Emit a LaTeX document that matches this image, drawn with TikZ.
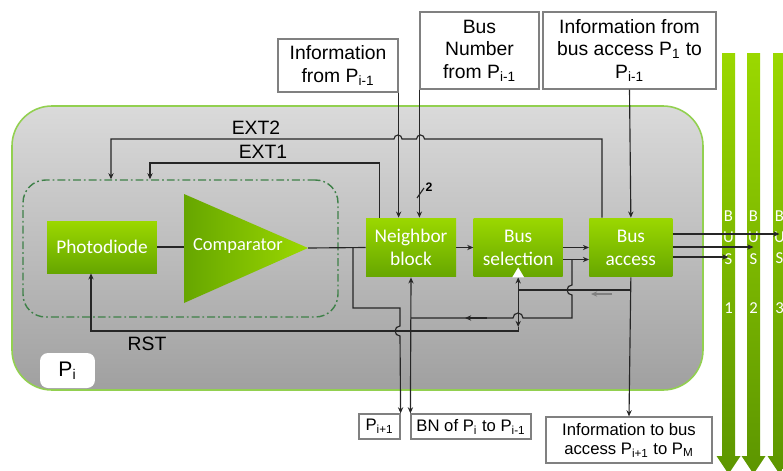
\documentclass[tikz,border=0pt]{standalone}
\usepackage{fontspec}
\setmainfont{Liberation Sans}
\newfontfamily\blockfont{Carlito}
\usetikzlibrary{arrows.meta, positioning}
\definecolor{limetop}{RGB}{155,216,0}
\definecolor{limebot}{RGB}{102,166,0}
\definecolor{paneltop}{RGB}{218,218,218}
\definecolor{panelbot}{RGB}{160,160,160}
\definecolor{panelrim}{RGB}{146,208,80}
\definecolor{dashgreen}{RGB}{62,128,72}
\colorlet{wire}{black!85}

\begin{document}
\begin{tikzpicture}[x=0.02cm, y=-0.02cm, >={Stealth[length=3.5pt,width=3pt]},
    block/.style={top color=limetop, bottom color=limebot, draw=none, text=white, align=center, inner sep=0pt, font=\blockfont\fontsize{11}{13}\selectfont},
    infobox/.style={draw=black!50, line width=0.7pt, fill=white, align=center, inner sep=0pt, font=\fontsize{11}{12.8}\selectfont},
    smallbox/.style={infobox, font=\fontsize{9.5}{10.8}\selectfont},
    wiring/.style={draw=wire, line width=0.65pt},
    lbl/.style={font=\fontsize{11}{13}\selectfont}]
    \useasboundingbox (0,0) rectangle (783,470);

    \draw[top color=paneltop, bottom color=panelbot, draw=panelrim, line width=0.9pt, rounded corners=0.8cm] (12,106) rectangle (703,390);
    \node[fill=white, rounded corners=0.16cm, minimum width=1.1cm, minimum height=0.7cm, font=\fontsize{12}{14}\selectfont] (pi) at (67.5,370.5) {P\textsubscript{i}};

    \node[draw=dashgreen, line width=0.8pt, dash pattern=on 4.5pt off 1.7pt on 1pt off 1.7pt, rounded corners=0.45cm, minimum width=6.3cm, minimum height=2.74cm] (sensor) at (180.5,248.5) {};
    \node[block, minimum width=2.2cm, minimum height=1.04cm] (pd) at (102,247) {Photodiode};
    \coordinate (cmpin) at (184,247);
    \coordinate (cmpout) at (308,248);
    \shade[left color=limebot, right color=limetop] (184,194) -- (cmpout) -- (184,303) -- cycle;
    \node[text=white, font=\blockfont\fontsize{10.5}{12}\selectfont] (cmp) at (238,246) {Comparator};

    \node[block, minimum width=1.8cm, minimum height=1.18cm] (nb) at (411,247.5) {Neighbor\\block};
    \node[block, minimum width=1.78cm, minimum height=1.18cm, right=0.34cm of nb] (bs) {Bus\\selection};
    \node[block, minimum width=1.66cm, minimum height=1.18cm, right=0.52cm of bs] (ba) {Bus\\access};

    \node[infobox, minimum width=2.4cm, minimum height=1.06cm] (infoprev) at (338,65.5) {Information\\from P\textsubscript{i-1}};
    \node[infobox, minimum width=2.38cm, minimum height=1.54cm] (busnum) at (479.5,50.5) {Bus\\Number\\from P\textsubscript{i-1}};
    \node[infobox, minimum width=3.46cm, minimum height=1.54cm] (infoacc) at (629.5,50.5) {Information from\\bus access P\textsubscript{1} to\\P\textsubscript{i-1}};

    \node[smallbox, minimum width=0.82cm, minimum height=0.5cm] (pnext) at (379.5,426.5) {P\textsubscript{i+1}};
    \node[smallbox, minimum width=2.4cm, minimum height=0.5cm] (bn) at (471,426.5) {BN of P\textsubscript{i} to P\textsubscript{i-1}};
    \node[smallbox, minimum width=3.32cm, minimum height=0.92cm] (infonext) at (629,440) {Information to bus\\access P\textsubscript{i+1} to P\textsubscript{M}};

    \foreach \k/\bx in {1/728.5, 2/753.5, 3/779.5} {
      \shade[top color=limetop, bottom color=limebot!90!black] (\bx-6.5,53) -- (\bx+6.5,53) -- (\bx+6.5,456) -- (\bx+12,456) -- (\bx,474) -- (\bx-12,456) -- (\bx-6.5,456) -- cycle;
      \node[text=white, align=center, inner sep=0pt, font=\blockfont\fontsize{9.5}{12.2}\selectfont] (bus\k) at (\bx,262) {B\\U\\S\\[16pt]\k};
    }

    \node[lbl] (ext2) at (256,128) {EXT2};
    \node[lbl] (ext1) at (263,152) {EXT1};
    \node[lbl] (rst) at (147,344) {RST};

    \draw[wiring, ->] (infoprev.south east) -- (infoprev.south east |- nb.north);
    \draw[wiring, ->] (busnum.south west) -- (busnum.south west |- nb.north);
    \draw[wiring, ->] (infoacc.south) -- (ba.north);
    \draw[wiring] (417,198) -- (424,188);
    \node[font=\fontsize{7}{8}\selectfont\bfseries, inner sep=0pt] (wires2) at (429,187) {2};

    \draw[wiring, ->] ([xshift=0.26cm]ba.north west) |- (424.5,139) arc[start angle=0, end angle=180, radius=0.08cm] -- (402,139) arc[start angle=0, end angle=180, radius=0.08cm] -- (111,139) -- (sensor.north -| 111,0);
    \draw[wiring, ->] ([xshift=0.28cm]nb.north west) |- (150,163) -- (sensor.north -| 150,0);

    \draw[wiring] (pd.east) -- (cmpin);
    \draw[wiring] (cmpout) -- (nb.west);
    \coordinate (tap) at (353,248);
    \draw[wiring, ->] (tap) |- (400,308) -- (400,326) arc[start angle=90, end angle=270, radius=0.1cm] -- (pnext.north east);
    \draw[wiring, <->] (nb.south) -- (bn.north west);

    \draw[wiring, ->] (nb.east) -- (bs.west);
    \draw[wiring, ->] (bs.east) -- (ba.west);
    \draw[wiring, ->] ([yshift=-0.24cm]bs.east) -- ([yshift=-0.24cm]ba.west);
    \coordinate (split) at (572,259.5);
    \draw[wiring] (split) -- (572,285) arc[start angle=90, end angle=270, radius=0.1cm] -- (572,318) -- (523,318) arc[start angle=0, end angle=180, radius=0.1cm] -- (nb.south |- 0,318);
    \draw[->, wire, line width=0.9pt] (487,318) -- (465,318);

    \draw[wiring, ->] (ba.south) -- (infonext.north);
    \draw[wiring] (ba.south |- 0,290) -- (bs.south |- 0,290);
    \draw[->, black!50, line width=1pt] (612,294) -- (591,294);
    \draw[wiring, <->] (bs.south) -- (bs.south |- 0,327);
    \fill[white] ([xshift=-0.12cm]bs.south) -- ([yshift=0.2cm]bs.south) -- ([xshift=0.12cm]bs.south) -- cycle;
    \draw[wiring, ->] (bs.south |- 0,327) -- (bs.south |- 0,331) -| ([xshift=-0.22cm]pd.south);

    \foreach \k/\yy in {3/234, 2/247, 1/257} { \draw[wiring, ->] (ba.east |- 0,\yy) -- (bus\k.center |- 0,\yy); }
\end{tikzpicture}
\end{document}
